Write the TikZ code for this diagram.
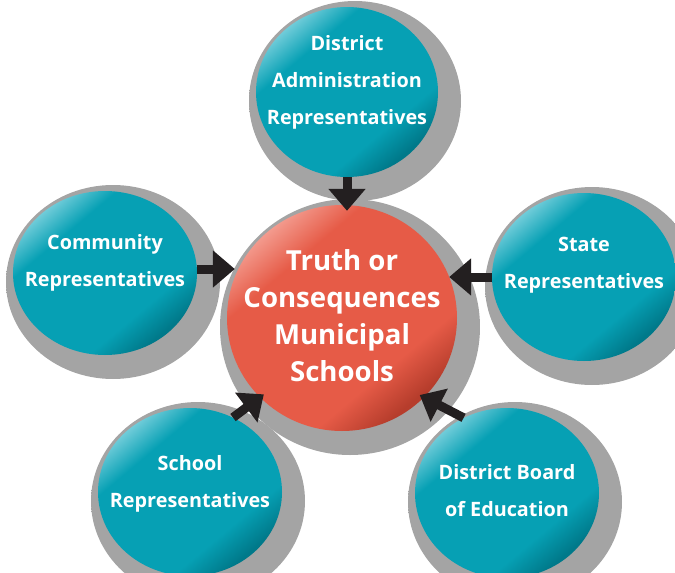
\documentclass[tikz,border=0pt]{standalone}
\usepackage{fontspec}
\setmainfont{Open Sans}
\usetikzlibrary{arrows.meta,shapes.geometric}

\definecolor{tealmain}{HTML}{06A0B4}
\definecolor{teallight}{HTML}{70CCD9}
\definecolor{tealdark}{HTML}{00798A}
\definecolor{redmain}{HTML}{E65B47}
\definecolor{redlight}{HTML}{F39A8D}
\definecolor{reddark}{HTML}{B63D2C}
\definecolor{arrowblack}{HTML}{231F20}
\definecolor{shadowgray}{HTML}{A4A4A4}

% light rim towards the upper left, dark rim towards the lower right
\pgfdeclareverticalshading{tealside}{100bp}{%
  color(0bp)=(tealdark); color(26bp)=(tealdark); color(35bp)=(tealmain);
  color(66bp)=(tealmain); color(75bp)=(teallight); color(100bp)=(teallight)}
\pgfdeclareverticalshading{redside}{100bp}{%
  color(0bp)=(reddark); color(26bp)=(reddark); color(35bp)=(redmain);
  color(66bp)=(redmain); color(75bp)=(redlight); color(100bp)=(redlight)}
% grey core fading out to the white page
\pgfdeclareradialshading{shadowshade}{\pgfpointorigin}{%
  color(0bp)=(shadowgray); color(36bp)=(shadowgray);
  color(50bp)=(white); color(60bp)=(white)}

\tikzset{
  tealball/.style={ellipse, inner sep=0pt, minimum width=184pt, minimum height=168pt,
      shading=tealside, shading angle=40},
  redball/.style={ellipse, inner sep=0pt, minimum width=230pt, minimum height=226pt,
      shading=redside, shading angle=40},
  dropshadow/.style={shading=shadowshade},
  balltext/.style={text=white, align=center, font=\bfseries\fontsize{19.8}{37}\selectfont},
  bigtext/.style={text=white, align=center, font=\bfseries\fontsize{27.6}{37}\selectfont},
  pointer/.style={draw=arrowblack, line width=9pt,
      -{Triangle[length=22pt, width=36pt]}},
}

\begin{document}
\begin{tikzpicture}[x=1pt, y=1pt]
  \useasboundingbox (0,0) rectangle (675,-573);

  % circle centres
  \coordinate (p-center)    at (342,-318);
  \coordinate (p-admin)     at (347,-92);
  \coordinate (p-community) at (105,-273);
  \coordinate (p-state)     at (584,-277);
  \coordinate (p-school)    at (190,-492);
  \coordinate (p-board)     at (507,-493);

  % soft drop shadows, down and to the right of each circle
  \shade[dropshadow] ([xshift=8pt,yshift=-9pt]p-center)    ellipse (130pt and 128pt);
  \shade[dropshadow] ([xshift=8pt,yshift=-9pt]p-admin)     ellipse (106pt and 100pt);
  \shade[dropshadow] ([xshift=8pt,yshift=-9pt]p-community) ellipse (107pt and 97pt);
  \shade[dropshadow] ([xshift=8pt,yshift=-9pt]p-state)     ellipse (107pt and 99pt);
  \shade[dropshadow] ([xshift=8pt,yshift=-9pt]p-school)    ellipse (107pt and 99pt);
  \shade[dropshadow] ([xshift=8pt,yshift=-9pt]p-board)     ellipse (107pt and 100pt);

  % circles
  \node[redball]  (center)    at (p-center) {};
  \node[tealball, minimum width=182pt, minimum height=170pt] (admin) at (p-admin) {};
  \node[tealball, minimum height=164pt] (community) at (p-community) {};
  \node[tealball] (state)     at (p-state) {};
  \node[tealball] (school)    at (p-school) {};
  \node[tealball, minimum height=170pt] (board) at (p-board) {};

  % labels
  \node[bigtext]  (center-txt)    at ([yshift=2pt]center)     {Truth or\\Consequences\\Municipal\\Schools};
  \node[balltext] (admin-txt)     at ([yshift=10pt]admin)     {District\\Administration\\Representatives};
  \node[balltext] (community-txt) at ([yshift=10pt]community) {Community\\Representatives};
  \node[balltext] (state-txt)     at ([yshift=12pt]state)     {State\\Representatives};
  \node[balltext] (school-txt)    at ([yshift=8pt]school)     {School\\Representatives};
  \node[balltext] (board-txt)     at ([yshift=2pt]board)      {District Board\\of Education};

  % arrows into the centre
  \draw[pointer, shorten >=-6pt] (admin.south) -- (admin.south |- center.north);
  \draw[pointer, shorten >=-8pt] ([yshift=4pt]community.east) -- ([yshift=4pt]community.east -| center.west);
  \draw[pointer, shorten >=-8pt] (state.west) -- (state.west -| center.east);
  \draw[pointer, shorten >=-5pt] (school.60) -- (center.224);
  \draw[pointer, shorten >=-5pt] (board.120) -- (center.316);
\end{tikzpicture}
\end{document}
